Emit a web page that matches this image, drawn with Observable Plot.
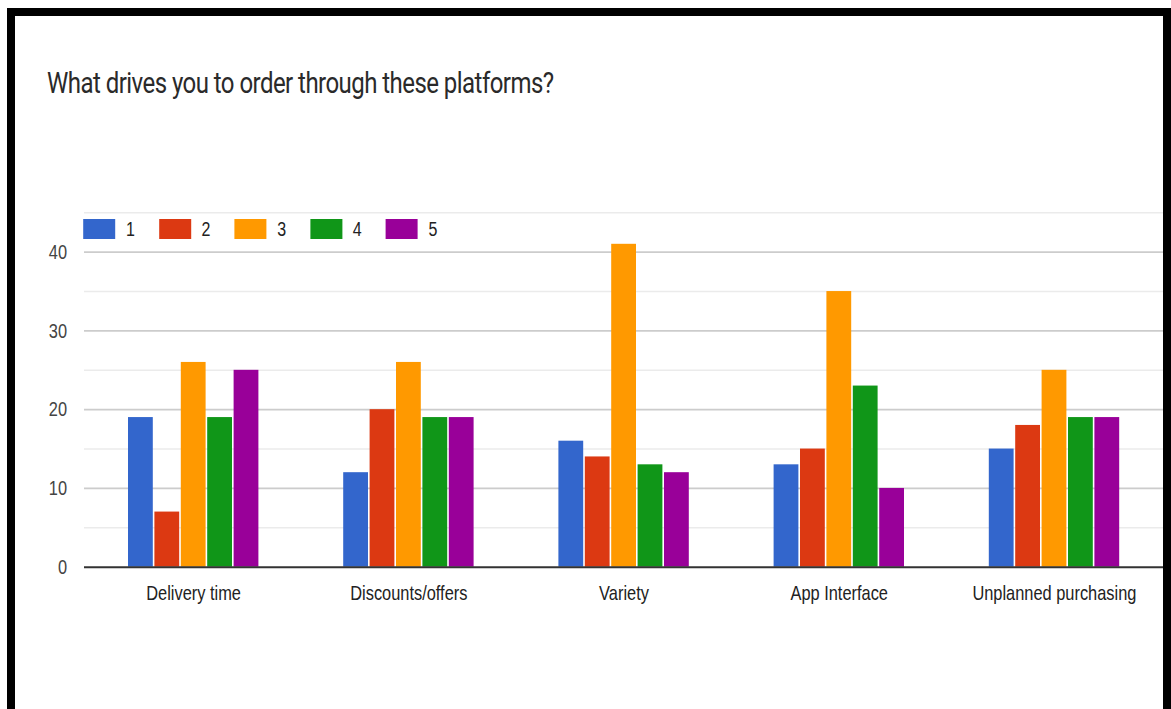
<!DOCTYPE html>
<html>
<head>
<meta charset="utf-8">
<script src="https://cdn.jsdelivr.net/npm/d3@7"></script>
<script src="https://cdn.jsdelivr.net/npm/@observablehq/plot@0.6"></script>
<style>
  html, body { margin: 0; padding: 0; background: #fff; }
  #frame { position: relative; width: 1171px; height: 709px; overflow: hidden; background: #fff; }
  #stage { position: absolute; left: 0; top: 0; height: 709px; transform-origin: 0 0; }
  .layer { position: absolute; left: 0; top: 0; }
  .layer svg { display: block; }
  #title { position: absolute; font-family: Roboto, "Noto Sans", sans-serif; color: #2a2a2a; white-space: nowrap; line-height: 1; }
  #legend { position: absolute; display: flex; font-family: "Liberation Sans", Arial, sans-serif; font-size: 20px; color: #222; height: 20px; }
  .item { display: flex; align-items: center; }
  .swatch { height: 20px; box-sizing: border-box; }
  .border { position: absolute; background: #000; }
</style>
</head>
<body>
<div id="frame">
  <div id="stage">
    <div id="title"></div>
    <div id="layerGrid" class="layer"></div>
    <div id="layerBars" class="layer"></div>
    <div id="layerBase" class="layer"></div>
    <div id="legend"></div>
  </div>
  <div class="border" style="left:7px;top:8px;width:1164px;height:8px"></div>
  <div class="border" style="left:7px;top:8px;width:8px;height:701px"></div>
  <div class="border" style="left:1163px;top:8px;width:8px;height:701px"></div>
</div>
<script>
// ---- data ----
const titleText = "What drives you to order through these platforms?";
const categories = ["Delivery time", "Discounts/offers", "Variety", "App Interface", "Unplanned purchasing"];
const seriesNames = ["1", "2", "3", "4", "5"];
const seriesColors = ["#3366cc", "#dc3912", "#ff9900", "#109618", "#990099"];
const series1 = [19, 12, 16, 13, 15];
const series2 = [7, 20, 14, 15, 18];
const series3 = [26, 26, 41, 35, 25];
const series4 = [19, 19, 13, 23, 19];
const series5 = [25, 19, 12, 10, 19];
const yMajorTicks = [0, 10, 20, 30, 40];
const yMinorTicks = [5, 15, 25, 35, 45];
const yDomain = [0, 45];

const allSeries = [series1, series2, series3, series4, series5];
const rows = categories.flatMap((c, i) =>
  seriesNames.map((s, j) => ({category: c, series: s, value: allSeries[j][i]}))
);

// ---- layout (the whole stage is squeezed horizontally like the source screenshot) ----
const S = 0.8;
const W = 1171 / S, H = 709;
const mLeft = 84 / S, mRight = 8 / S, mTop = 212.3, mBottom = H - 566.7;
const fxPadInner = 0.381, fxPadOuter = 0.19;
const font = '"Liberation Sans", Arial, sans-serif';

const stage = document.getElementById("stage");
stage.style.width = W + "px";
stage.style.transform = `scaleX(${S})`;

const title = document.getElementById("title");
title.textContent = titleText;
title.style.left = (47 / S) + "px";
title.style.top = "68px";
title.style.fontSize = "30px";
title.style.letterSpacing = "-0.68px";

// legend
const legend = document.getElementById("legend");
legend.style.left = (83.5 / S) + "px";
legend.style.top = "219px";
seriesNames.forEach((name, i) => {
  const item = document.createElement("div");
  item.className = "item";
  item.style.width = (75.6 / S) + "px";
  const sw = document.createElement("div");
  sw.className = "swatch";
  sw.style.width = (32 / S) + "px";
  sw.style.background = seriesColors[i];
  sw.style.marginRight = (10.5 / S) + "px";
  const lab = document.createElement("span");
  lab.textContent = name;
  item.appendChild(sw);
  item.appendChild(lab);
  legend.appendChild(item);
});

const common = {
  width: W, height: H,
  marginTop: mTop, marginBottom: mBottom, marginLeft: mLeft, marginRight: mRight,
  style: {background: "transparent", fontFamily: font, fontSize: "20.5px", overflow: "visible"}
};

// grid + axis labels
const grid = Plot.plot({
  ...common,
  x: {type: "band", domain: categories, paddingInner: fxPadInner, paddingOuter: fxPadOuter, axis: null},
  y: {domain: yDomain, axis: null},
  marks: [
    Plot.ruleY(yMinorTicks, {stroke: "#ebebeb", strokeWidth: 1.5}),
    Plot.ruleY(yMajorTicks.filter(d => d > 0), {stroke: "#cccccc", strokeWidth: 1.8}),
    Plot.text(yMajorTicks, {y: d => d, frameAnchor: "left", textAnchor: "end", dx: -17.3 / S, text: d => String(d), fill: "#444", fontSize: 20.5}),
    Plot.text(categories, {x: d => d, frameAnchor: "bottom", dy: 33, text: d => d, fill: "#222", fontSize: 20.5})
  ]
});
document.getElementById("layerGrid").appendChild(grid);

// bars
const bars = Plot.plot({
  ...common,
  facet: {data: rows, x: "category"},
  fx: {domain: categories, paddingInner: fxPadInner, paddingOuter: fxPadOuter, axis: null, label: null},
  x: {type: "band", domain: seriesNames, paddingInner: 0.07, paddingOuter: 0, axis: null},
  y: {domain: yDomain, axis: null},
  color: {domain: seriesNames, range: seriesColors},
  marks: [
    Plot.barY(rows, {x: "series", y: "value", fill: "series"})
  ]
});
document.getElementById("layerBars").appendChild(bars);

// baseline on top
const base = Plot.plot({
  ...common,
  y: {domain: yDomain, axis: null},
  marks: [Plot.ruleY([0], {stroke: "#333", strokeWidth: 2})]
});
document.getElementById("layerBase").appendChild(base);
</script>
</body>
</html>
